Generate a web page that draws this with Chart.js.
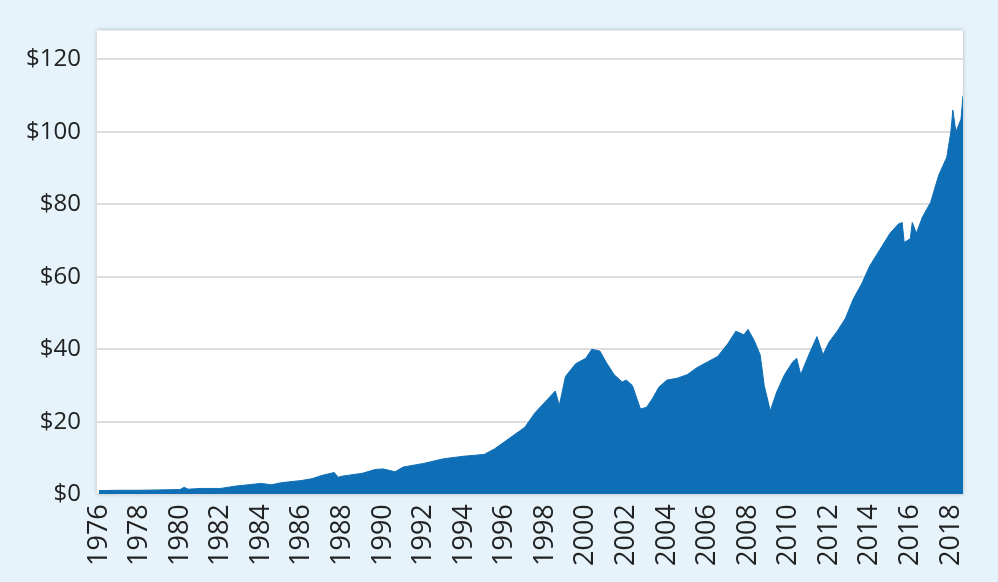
<!DOCTYPE html>
<html>
<head>
<meta charset="utf-8">
<script src="https://cdn.jsdelivr.net/npm/chart.js@4/dist/chart.umd.min.js"></script>
<style>
	html, body { margin: 0; padding: 0; background: #e6f3fb; }
	#wrap { width: 998px; height: 582px; }
</style>
</head>
<body>
<div id="wrap"><canvas id="chart"></canvas></div>
<script>
// values (year, value in $)
const years = [1976, 1977, 1978, 1979, 1980, 1980.2, 1980.4, 1981, 1982, 1982.8, 1983, 1984, 1984.5, 1985, 1986, 1986.5, 1987, 1987.6, 1987.8, 1988, 1989, 1989.6, 1990, 1990.6, 1991, 1992, 1993, 1994, 1995, 1995.5, 1996, 1996.5, 1997, 1997.5, 1998, 1998.5, 1998.7, 1999, 1999.5, 2000, 2000.3, 2000.7, 2001, 2001.4, 2001.8, 2002, 2002.3, 2002.7, 2003, 2003.3, 2003.6, 2004, 2004.5, 2005, 2005.5, 2006, 2006.5, 2007, 2007.4, 2007.8, 2008, 2008.3, 2008.6, 2008.8, 2009.1, 2009.4, 2009.8, 2010.2, 2010.4, 2010.6, 2011, 2011.4, 2011.7, 2012, 2012.4, 2012.8, 2013.2, 2013.6, 2014, 2014.5, 2015, 2015.4, 2015.6, 2015.7, 2016, 2016.1, 2016.3, 2016.6, 2017, 2017.4, 2017.8, 2018, 2018.1, 2018.25, 2018.5, 2018.6];
const values = [1.0, 1.1, 1.1, 1.2, 1.3, 1.9, 1.4, 1.6, 1.6, 2.3, 2.4, 3.0, 2.6, 3.2, 3.8, 4.3, 5.2, 6.0, 4.7, 5.0, 5.8, 6.8, 7.0, 6.2, 7.5, 8.5, 9.8, 10.5, 11.0, 12.5, 14.5, 16.5, 18.5, 22.5, 25.5, 28.5, 24.5, 32.5, 36.0, 37.5, 40.0, 39.5, 36.5, 33.0, 31.0, 31.5, 30.0, 23.5, 24.0, 26.5, 29.5, 31.5, 32.0, 33.0, 35.0, 36.5, 38.0, 41.5, 45.0, 44.0, 45.5, 42.5, 38.5, 30.0, 23.0, 28.0, 33.0, 36.5, 37.5, 33.0, 38.5, 43.5, 38.5, 42.0, 45.0, 48.5, 54.0, 58.0, 63.0, 67.5, 72.0, 74.5, 75.0, 69.5, 70.5, 75.0, 72.0, 76.5, 80.5, 88.0, 93.0, 100.0, 106.0, 100.0, 103.5, 110.0];
const yTicks = [0, 20, 40, 60, 80, 100, 120];

const plotBg = {
	id: 'plotBg',
	beforeDraw(chart) {
		const { ctx, chartArea: a } = chart;
		ctx.save();
		ctx.fillStyle = '#ffffff';
		ctx.shadowColor = 'rgba(0,0,0,0.25)';
		ctx.shadowBlur = 4;
		ctx.fillRect(a.left, a.top, a.right - a.left, a.bottom - a.top);
		ctx.restore();
	}
};

new Chart(document.getElementById('chart'), {
	type: 'line',
	data: {
		datasets: [{
			data: years.map((y, i) => ({ x: y, y: values[i] })),
			backgroundColor: '#0f6fb6',
			borderColor: '#0f6fb6',
			borderWidth: 1,
			fill: 'origin',
			pointRadius: 0,
			tension: 0
		}]
	},
	plugins: [plotBg],
	options: {
		responsive: true,
		maintainAspectRatio: false,
		animation: false,
		layout: { padding: { top: 30, right: 35, bottom: 14, left: 10 } },
		plugins: { legend: { display: false }, tooltip: { enabled: false } },
		scales: {
			x: {
				type: 'linear',
				min: 1975.9,
				max: 2018.6,
				afterBuildTicks: axis => { axis.ticks = []; for (let y = 1976; y <= 2018; y += 2) axis.ticks.push({ value: y }); },
				ticks: { font: { family: 'Open Sans', size: 27 }, color: '#222', padding: 2, minRotation: 90, maxRotation: 90, autoSkip: false, callback: v => String(v) },
				grid: { display: false },
				border: { display: false }
			},
			y: {
				min: 0,
				max: 128,
				afterBuildTicks: axis => { axis.ticks = yTicks.map(v => ({ value: v })); },
				ticks: { font: { family: 'Open Sans', size: 24 }, color: '#222', padding: 16, callback: v => '$' + v },
				grid: { color: '#dddddd', lineWidth: 2, drawTicks: false },
				border: { display: false }
			}
		}
	}
});
</script>
</body>
</html>
